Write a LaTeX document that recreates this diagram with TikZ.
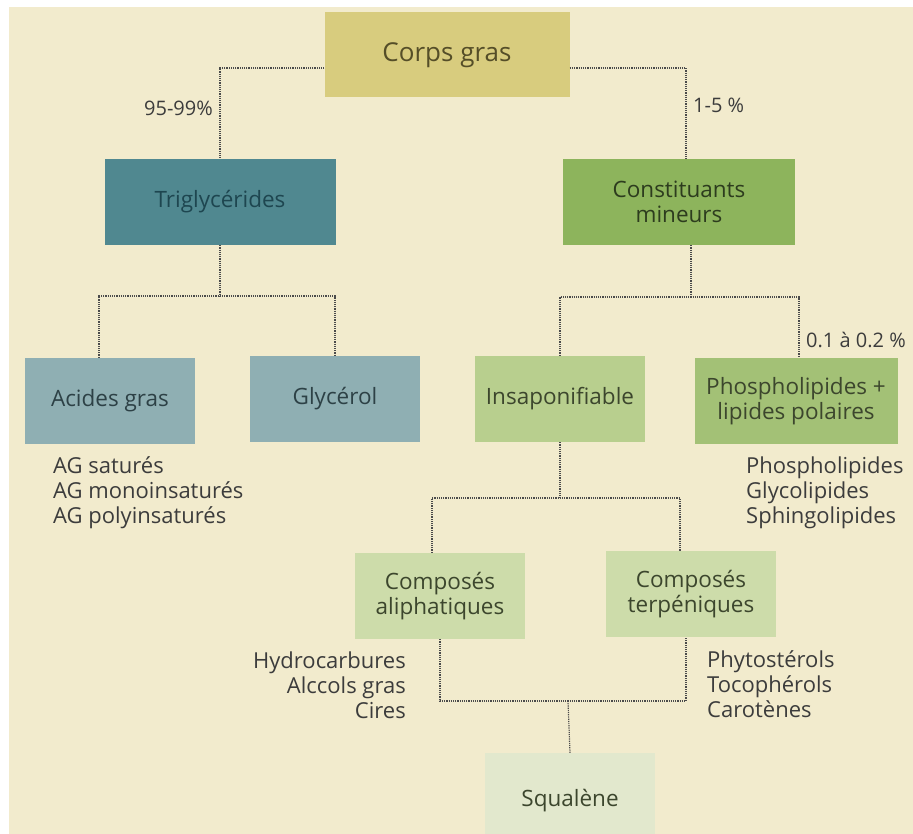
\documentclass[tikz,border=0pt]{standalone}
\usepackage{fontspec}
\setmainfont{Open Sans}
\usepackage{xcolor}
\definecolor{creamBg}{RGB}{242,235,205}
\definecolor{corpsYellow}{RGB}{216,204,126}
\definecolor{triTeal}{RGB}{80,136,144}
\definecolor{minGreen}{RGB}{141,180,92}
\definecolor{acidBlue}{RGB}{143,175,179}
\definecolor{insapGreen}{RGB}{184,207,142}
\definecolor{phosGreen}{RGB}{163,193,118}
\definecolor{compGreen}{RGB}{205,220,170}
\definecolor{squalGreen}{RGB}{226,232,205}
\definecolor{corpsText}{RGB}{85,78,40}
\definecolor{triText}{RGB}{30,70,80}
\definecolor{minText}{RGB}{45,60,30}
\definecolor{acidText}{RGB}{45,65,70}
\definecolor{greenText}{RGB}{60,70,45}
\definecolor{lineGrey}{RGB}{75,75,75}
\definecolor{listGrey}{RGB}{60,60,60}

\begin{document}
\begin{tikzpicture}[x=1pt, y=-1pt,
    box/.style={minimum width=170pt, minimum height=86pt, align=center, inner sep=2pt,
        font=\fontsize{22.5}{25}\selectfont},
    link/.style={densely dotted, line width=1.2pt, lineGrey},
    list/.style={font=\fontsize{22}{25}\selectfont, text=listGrey, inner sep=0pt},
    pct/.style={font=\fontsize{20}{22}\selectfont, text=listGrey, inner sep=0pt}]
    % Background
    \useasboundingbox (0,0) rectangle (913,834);
    \fill[white] (0,0) rectangle (913,834);
    \fill[creamBg] (9,7) rectangle (913,834);
    \clip (0,0) rectangle (913,834);

    % Boxes
    \node[box, fill=corpsYellow, text=corpsText, minimum width=245pt, minimum height=85pt,
        font=\fontsize{26}{28}\selectfont] (corps) at (447,55) {Corps gras};
    \node[box, fill=triTeal, text=triText, minimum width=231pt] (trigly) at (220,202) {Triglycérides};
    \node[box, fill=minGreen, text=minText, minimum width=232pt] (mineurs) at (679,202) {Constituants\\mineurs};
    \node[box, fill=acidBlue, text=acidText] (acides) at (110,401) {Acides gras};
    \node[box, fill=acidBlue, text=acidText] (glycerol) at (335,399) {Glycérol};
    \node[box, fill=insapGreen, text=greenText] (insap) at (560,399) {Insaponifiable};
    \node[box, fill=phosGreen, text=greenText, minimum width=203pt] (phospho) at (796,401) {Phospholipides +\\lipides polaires};
    \node[box, fill=compGreen, text=greenText] (aliph) at (440,596) {Composés\\aliphatiques};
    \node[box, fill=compGreen, text=greenText] (terpen) at (691,594) {Composés\\terpéniques};
    \node[box, fill=squalGreen, text=greenText, minimum height=94pt, anchor=north] (squalene) at (570,753) {Squalène};

    % Connectors
    \draw[link] ([yshift=-13pt]corps.west) -| (trigly.north);
    \draw[link] ([yshift=-13pt]corps.east) -| ([xshift=7pt]mineurs.north);

    \coordinate (triFork) at (220,296);
    \draw[link] (trigly.south) -- (triFork);
    \draw[link] ([xshift=-11pt]acides.north) |- (triFork) -| (glycerol.north);

    \coordinate (minFork) at (691,297);
    \draw[link] ([xshift=12pt]mineurs.south) -- (minFork);
    \draw[link] (insap.north) |- (minFork) -| ([xshift=3pt]phospho.north);

    \coordinate (insapFork) at (560,498);
    \draw[link] (insap.south) -- (insapFork);
    \draw[link] ([xshift=-8pt]aliph.north) |- (insapFork) -| ([xshift=-11pt]terpen.north);

    \coordinate (squalFork) at (568,701);
    \draw[link] (aliph.south) |- (squalFork) -| ([xshift=-5pt]terpen.south);
    \draw[link] (squalFork) -- (squalene.north);

    % Percentages
    \node[pct, anchor=east] (pctTri) at (213,108) {95-99\%};
    \node[pct, anchor=west] (pctMin) at (693,105) {1-5 \%};
    \node[pct, anchor=west] (pctPhos) at (806,340) {0.1 à 0.2 \%};

    % Lists
    \node[list, align=left, anchor=west] (agList) at (53,493) {AG saturés\\AG monoinsaturés\\AG polyinsaturés};
    \node[list, align=left, anchor=west] (phosList) at (746,493) {Phospholipides\\Glycolipides\\Sphingolipides};
    \node[list, align=right, anchor=east] (aliphList) at (406,685) {Hydrocarbures\\Alccols gras\\Cires};
    \node[list, align=left, anchor=west] (terpList) at (707,684) {Phytostérols\\Tocophérols\\Carotènes};
\end{tikzpicture}
\end{document}
